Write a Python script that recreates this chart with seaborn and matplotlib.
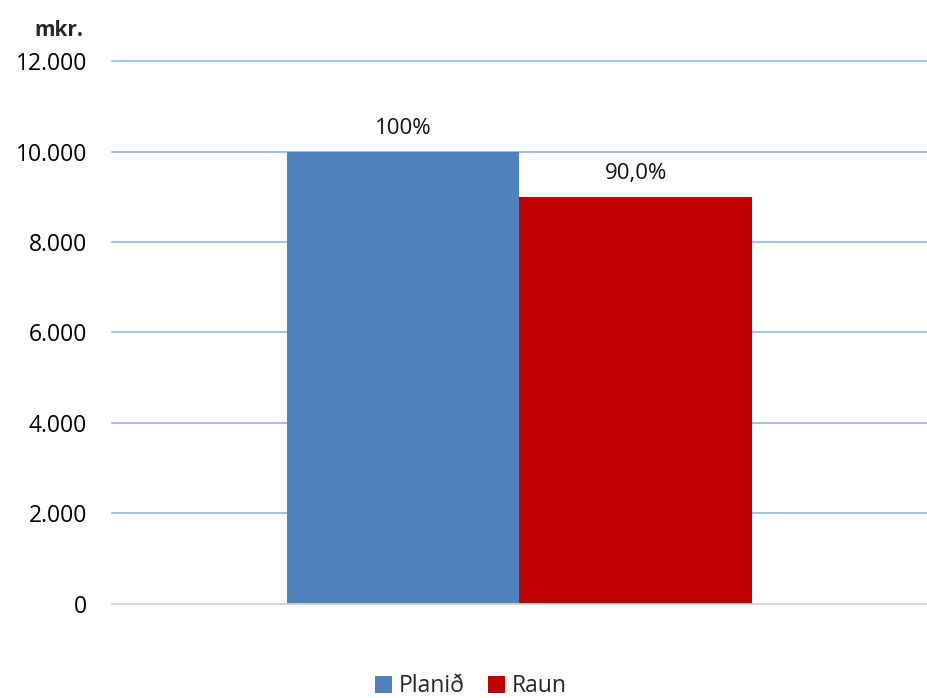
import matplotlib
matplotlib.use("Agg")
from matplotlib import pyplot as plt
from matplotlib.ticker import FuncFormatter
import seaborn as sns
import pandas as pd

categories = [""]
series = ["Planið", "Raun"]
values = [10000, 9000]
bar_labels = ["100%", "90,0%"]
colors = ["#4F81BD", "#C00000"]
yticks = [0, 2000, 4000, 6000, 8000, 10000, 12000]

df = pd.DataFrame({"cat": categories * len(series), "series": series, "value": values})

sns.set_style("white")
plt.rcParams["font.family"] = ["Open Sans", "DejaVu Sans"]

fig = plt.figure(figsize=(9.27, 6.98), dpi=100)
ax = fig.add_axes([0.1208, 0.1347, 0.879, 0.7779])

sns.barplot(data=df, x="cat", y="value", hue="series", palette=colors,
            width=0.571, saturation=1, linewidth=0, ax=ax, legend=True)

ax.set_xlim(-0.5, 0.5)
ax.set_ylim(0, 12000)
ax.set_yticks(yticks)
ax.yaxis.set_major_formatter(FuncFormatter(lambda v, p: f"{int(v):,}".replace(",", ".")))
ax.tick_params(axis="y", labelsize=16.5, length=0, pad=18, colors="black")
ax.set_xticks([])
ax.set_xlabel("")
ax.set_ylabel("")
ax.grid(axis="y", color="#A9C0E8", linewidth=1.5)
for gl in ax.get_ygridlines():
    gl.set_clip_on(False)
ax.set_axisbelow(True)
for s in ["top", "right", "left"]:
    ax.spines[s].set_visible(False)
ax.spines["bottom"].set_color("#D9D9D9")
ax.spines["bottom"].set_linewidth(1.2)

for cont, lab in zip(ax.containers, bar_labels):
    ax.bar_label(cont, labels=[lab], padding=9, fontsize=16, color="#111111")

fig.text(0.063, 0.957, "mkr.", fontsize=15, fontweight="bold", ha="center", va="center")

h, l = ax.get_legend_handles_labels()
ax.legend_.remove()
fig.legend(h, l, loc="center", bbox_to_anchor=(0.508, 0.017), ncol=2, frameon=False,
           fontsize=16.5, handlelength=0.75, handleheight=0.75, handletextpad=0.3,
           columnspacing=1.0)

fig.savefig("out.png", dpi=100)
